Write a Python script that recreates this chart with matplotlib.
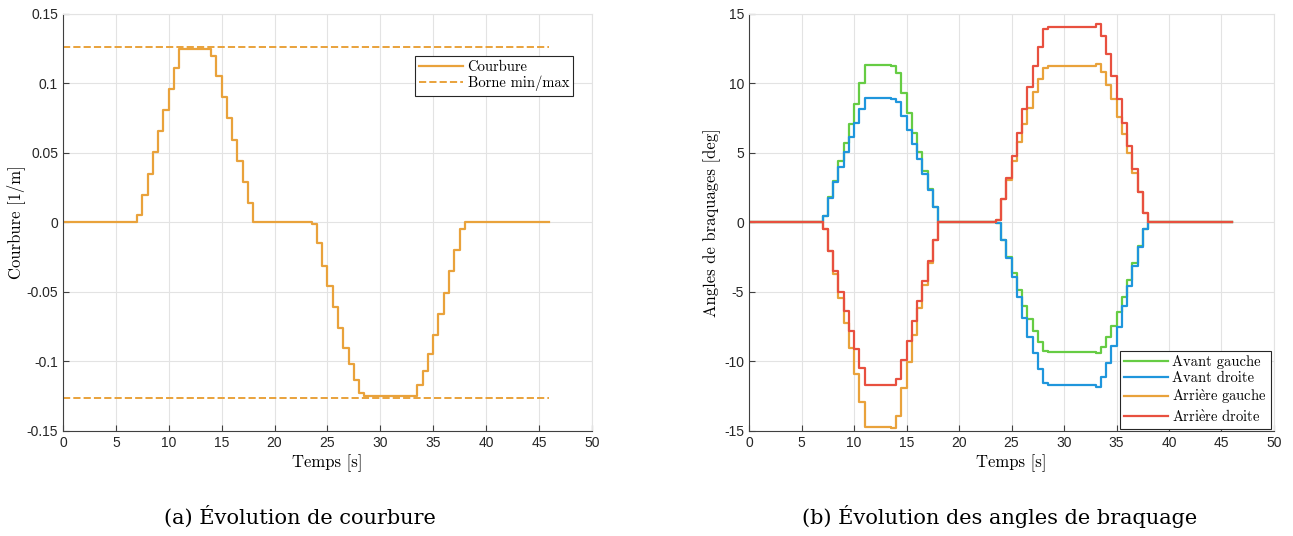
"""Courbure et angles de braquage en fonction du temps."""

import matplotlib

matplotlib.use("Agg")
import matplotlib.pyplot as plt

plt.rcParams["axes.unicode_minus"] = False
plt.rcParams["mathtext.fontset"] = "cm"

# Courbure (paliers, drawstyle steps-post)
t_kappa = [0, 7.0, 7.5, 8.0, 8.5, 9.0, 9.5, 10.0, 10.5, 11.0, 14.0, 14.5, 15.0,
           15.5, 16.0, 16.5, 17.0, 17.5, 18.0, 23.5, 24.0, 24.5, 25.0, 25.5,
           26.0, 26.5, 27.0, 27.5, 28.0, 28.5, 33.5, 34.0, 34.5, 35.0, 35.5,
           36.0, 36.5, 37.0, 37.5, 38.0, 46.0]
kappa = [0, 0.005, 0.020, 0.035, 0.051, 0.066, 0.081, 0.096, 0.111, 0.125,
         0.120, 0.105, 0.090, 0.075, 0.059, 0.044, 0.029, 0.014, 0, -0.001,
         -0.015, -0.031, -0.046, -0.061, -0.076, -0.090, -0.102, -0.113,
         -0.123, -0.125, -0.117, -0.107, -0.095, -0.081, -0.066, -0.051,
         -0.035, -0.020, -0.005, 0, 0]
kappa_max = 0.126
t_bound = [0, 46]

# Angles de braquage [deg]
t_ang = [0, 7.0, 7.5, 8.0, 8.5, 9.0, 9.5, 10.0, 10.5, 11.0, 13.5, 14.0, 14.5,
         15.0, 15.5, 16.0, 16.5, 17.0, 17.5, 18.0, 23.5, 24.0, 24.5, 25.0,
         25.5, 26.0, 26.5, 27.0, 27.5, 28.0, 28.5, 33.0, 33.5, 34.0, 34.5,
         35.0, 35.5, 36.0, 36.5, 37.0, 37.5, 38.0, 46.0]
avant_gauche = [0, 0.49, 1.80, 3.00, 4.42, 5.74, 7.11, 8.52, 10.01, 11.30,
                11.25, 10.78, 9.29, 7.85, 6.46, 5.07, 3.73, 2.41, 1.14, 0,
                -0.06, -1.26, -2.46, -3.66, -4.86, -5.98, -6.94, -7.81, -8.57,
                -9.24, -9.34, -9.41, -8.93, -8.22, -7.42, -6.46, -5.34, -4.14,
                -2.89, -1.67, -0.49, 0, 0]
avant_droite = [0, 0.49, 1.74, 2.94, 4.02, 5.07, 6.17, 7.13, 8.14, 8.95,
                8.88, 8.69, 7.66, 6.65, 5.65, 4.59, 3.47, 2.34, 1.14, 0,
                -0.06, -1.26, -2.58, -3.94, -5.38, -6.89, -8.22, -9.41,
                -10.54, -11.57, -11.69, -11.81, -11.14, -10.09, -8.88, -7.49,
                -6.00, -4.57, -3.13, -1.74, -0.49, 0, 0]
arriere_gauche = [0, -0.49, -2.03, -3.70, -5.46, -7.25, -9.05, -10.92, -12.89,
                  -14.72, -14.78, -13.92, -11.93, -10.01, -8.09, -6.17, -4.50,
                  -2.89, -1.26, 0, 0.18, 1.67, 3.06, 4.42, 5.77, 7.06, 8.26,
                  9.37, 10.32, 11.09, 11.26, 11.40, 10.85, 9.89, 8.86, 7.61,
                  6.37, 5.02, 3.58, 2.17, 0.66, 0, 0]
arriere_droite = [0, -0.49, -2.03, -3.49, -4.98, -6.37, -7.78, -9.12, -10.49,
                  -11.72, -11.72, -11.24, -9.89, -8.50, -7.06, -5.65, -4.21,
                  -2.75, -1.26, 0, 0.18, 1.67, 3.22, 4.81, 6.46, 8.14, 9.77,
                  11.26, 12.65, 13.92, 14.09, 14.25, 13.44, 12.10, 10.56, 8.86,
                  7.14, 5.50, 3.83, 2.17, 0.66, 0, 0]

ORANGE = "#E9A23B"
COLORS = ["#66CC44", "#1F96DC", ORANGE, "#E8503F"]
# accents via mathtext (cmr10 n'a pas le è)
NAMES = ["Avant gauche", "Avant droite",
         r"$\mathrm{Arri\grave{e}re\ gauche}$",
         r"$\mathrm{Arri\grave{e}re\ droite}$"]
SERIF = ["cmr10", "DejaVu Serif"]


def style_axes(ax):
    ax.grid(True, color="#e3e3e3", linewidth=0.8)
    ax.set_axisbelow(True)
    for side in ("left", "bottom"):
        ax.spines[side].set_color("#404040")
    for side in ("top", "right"):
        ax.spines[side].set_color("#e3e3e3")
    ax.tick_params(direction="in", length=4, color="#404040",
                   labelsize=10, labelcolor="#262626")
    for lab in ax.get_xticklabels() + ax.get_yticklabels():
        lab.set_family("Liberation Sans")


fig = plt.figure(figsize=(12.93, 5.36), dpi=100)
ax1 = fig.add_axes([0.0487, 0.196, 0.409, 0.778])
ax2 = fig.add_axes([0.5793, 0.196, 0.406, 0.778])

# (a) courbure
ax1.plot(t_kappa, kappa, drawstyle="steps-post", color=ORANGE, lw=1.6,
         label="Courbure")
ax1.plot(t_bound, [kappa_max] * 2, "--", color=ORANGE, lw=1.4,
         label="Borne min/max")
ax1.plot(t_bound, [-kappa_max] * 2, "--", color=ORANGE, lw=1.4)
ax1.set_xlim(0, 50)
ax1.set_ylim(-0.15, 0.15)
ax1.set_xticks(range(0, 51, 5))
ax1.set_yticks([-0.15, -0.1, -0.05, 0, 0.05, 0.1, 0.15])
ax1.set_yticklabels(["-0.15", "-0.1", "-0.05", "0", "0.05", "0.1", "0.15"])
ax1.set_xlabel("Temps [s]", family=SERIF, fontsize=12, labelpad=3)
ax1.set_ylabel("Courbure [1/m]", family=SERIF, fontsize=12)
ax1.yaxis.set_label_coords(-0.072, 0.5)
style_axes(ax1)
leg = ax1.legend(loc="upper right", bbox_to_anchor=(0.965, 0.9),
                 prop={"family": SERIF, "size": 10.5}, fancybox=False,
                 edgecolor="#262626", framealpha=1, borderpad=0.3,
                 handlelength=3, handletextpad=0.3, labelspacing=0.15,
                 borderaxespad=0)
leg.get_frame().set_linewidth(0.8)

# (b) angles de braquage
for serie, color, name in zip(
        [avant_gauche, avant_droite, arriere_gauche, arriere_droite],
        COLORS, NAMES):
    ax2.plot(t_ang, serie, drawstyle="steps-post", color=color, lw=1.6,
             label=name)
ax2.set_xlim(0, 50)
ax2.set_ylim(-15, 15)
ax2.set_xticks(range(0, 51, 5))
ax2.set_yticks(range(-15, 16, 5))
ax2.set_xlabel("Temps [s]", family=SERIF, fontsize=12, labelpad=3)
ax2.set_ylabel("Angles de braquages [deg]", family=SERIF, fontsize=12)
ax2.yaxis.set_label_coords(-0.053, 0.5)
style_axes(ax2)
leg = ax2.legend(loc="lower right", bbox_to_anchor=(0.995, 0.005),
                 prop={"family": SERIF, "size": 10.5}, fancybox=False,
                 edgecolor="#262626", framealpha=1, borderpad=0.3,
                 handlelength=3, handletextpad=0.3, labelspacing=0.15,
                 borderaxespad=0)
leg.get_frame().set_linewidth(0.8)

# Légendes des sous-figures
fig.text(0.232, 0.022, "(a) Évolution de courbure", ha="center",
         family="DejaVu Serif", fontsize=15)
fig.text(0.773, 0.022, "(b) Évolution des angles de braquage", ha="center",
         family="DejaVu Serif", fontsize=15)

fig.savefig("out.png", dpi=100)
